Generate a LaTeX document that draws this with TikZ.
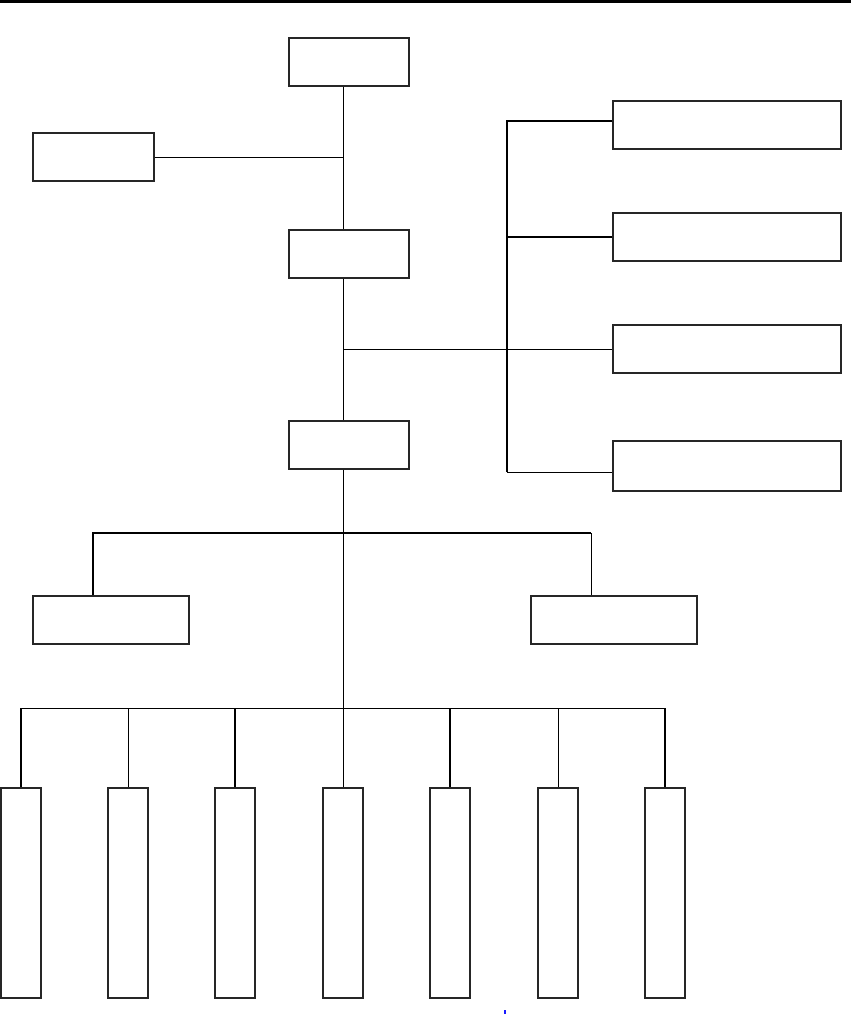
\documentclass[tikz,border=0pt]{standalone}
\usepackage{xcolor}
\usepackage{tikz}
\usetikzlibrary{calc,positioning}
\definecolor{OrgEdge}{HTML}{262626}
\definecolor{OrgMark}{HTML}{1A1AFF}

\begin{document}
\begin{tikzpicture}[x=1pt, y=-1pt,
    orgbox/.style={draw=OrgEdge, line width=1.1pt, fill=white, inner sep=0pt},
    headbox/.style={orgbox, minimum width=120pt, minimum height=48pt},
    sidebox/.style={orgbox, minimum width=228pt, minimum height=48pt},
    colbox/.style={orgbox, minimum width=40pt, minimum height=210pt},
    thinlink/.style={line width=0.9pt},
    thicklink/.style={line width=1.8pt}
  ]
  \useasboundingbox (0,0) rectangle (851,1018);
  % rule at the top
  \draw[line width=2.6pt] (0,1.3) -- (851,1.3);

  % main chain
  \node[headbox] (top) at (349,62) {};
  \node[headbox, minimum width=121pt] (left) at (93.5,157) {};
  \node[headbox] (mid) at (349,254) {};
  \node[headbox] (low) at (349,445) {};
  \coordinate (spine) at (343,0);
  \coordinate (bracket) at (507,0);

  % boxes on the right
  \node[sidebox] (r1) at (727,125) {};
  \node[sidebox] (r2) at (727,237) {};
  \node[sidebox] (r3) at (727,349) {};
  \node[sidebox, minimum height=50pt] (r4) at (727,466) {};

  % two branches
  \node[orgbox, minimum width=156pt, minimum height=48pt] (lb) at (111,620) {};
  \node[orgbox, minimum width=166pt, minimum height=48pt] (rb) at (614,620) {};
  \coordinate (branch) at (343,533);

  % columns
  \foreach \x [count=\i] in {21,128,235,343,450,558,665}
    \node[colbox] (c\i) at (\x,893) {};
  \coordinate (row) at (343,708);

  % links
  \draw[thinlink] (top.south -| spine) -- (mid.north -| spine);
  \draw[thinlink] (left.east) -- (left.east -| spine);
  \draw[thinlink] (mid.south -| spine) -- (low.north -| spine);
  \draw[thinlink] (r3.west -| spine) -- (r3.west);
  \draw[thicklink] ([yshift=4pt]r1.west) -- ([yshift=4pt]r1.west -| bracket) -- ([yshift=-6pt]r4.west -| bracket);
  \draw[thinlink] ([yshift=-6pt]r4.west -| bracket) -- ([yshift=-6pt]r4.west);
  \draw[thicklink] (r2.west) -- (r2.west -| bracket);
  \draw[thinlink] (low.south -| spine) -- (row);
  \draw[thicklink] ([xshift=-18pt]lb.north) -- ([xshift=-18pt]lb.north |- branch) -- ([xshift=-23pt]rb.north |- branch);
  \draw[thinlink] ([xshift=-23pt]rb.north |- branch) -- ([xshift=-23pt]rb.north);
  \draw[thinlink] (c1.north |- row) -- (c7.north |- row);
  \foreach \i/\w in {1/thicklink,2/thinlink,3/thicklink,4/thinlink,5/thicklink,6/thinlink,7/thicklink}
    \draw[\w] (c\i.north |- row) -- (c\i.north);

  % small mark near the bottom
  \draw[OrgMark, line width=1.2pt] (505,1010) -- (505,1014);
\end{tikzpicture}
\end{document}
